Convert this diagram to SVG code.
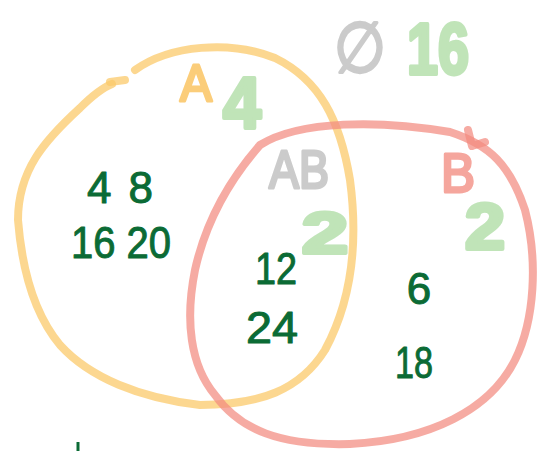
<svg xmlns="http://www.w3.org/2000/svg" width="545" height="451" viewBox="0 0 545 451">
<style>
.ring{fill:none;stroke-width:8;stroke-linecap:round;stroke-linejoin:round}
.a{stroke:#fbc96b;stroke-opacity:0.75}
.b{stroke:#f28b80;stroke-opacity:0.72}
.t{font-family:"Liberation Sans","DejaVu Sans",sans-serif;text-anchor:middle;stroke-linejoin:round}
.num{fill:#0b6b35;stroke:#0b6b35;stroke-width:1;font-size:44px}
.lg{fill:#bde3b5;stroke:#bde3b5;stroke-width:4;font-weight:bold;opacity:0.95}
.gr{fill:#c9c9c9;stroke:#c9c9c9;stroke-width:3;opacity:0.95}
</style>
<rect width="545" height="451" fill="#ffffff"/>
<g id="circleA">
<path class="ring a" d="M110 82 L125 80"/>
<path class="ring a" d="M135 70 C170 45 230 40 275 58 C320 80 340 120 350 180 C358 240 352 300 325 350 C300 390 260 405 200 405 C140 398 90 378 60 345 C35 315 22 270 18 220 C18 170 45 140 80 108 C92 96 102 88 112 84"/>
<text class="t" x="196" y="101" font-size="52" textLength="32" lengthAdjust="spacingAndGlyphs" fill="#fbcd7a" stroke="#fbcd7a" stroke-width="3">A</text>
</g>
<g id="circleB">
<path class="ring b" d="M260 145 C300 120 380 120 450 132 C490 145 510 165 525 210 C538 260 535 320 515 360 C490 410 430 440 350 444 C280 446 240 430 215 395 C190 365 185 320 195 270 C205 225 225 185 260 145"/>
<path class="ring b" d="M468 130 L472 146 M472 146 L485 142"/>
<text class="t" x="458" y="192" font-size="56" textLength="34" lengthAdjust="spacingAndGlyphs" fill="#f5a69d" stroke="#f5a69d" stroke-width="3">B</text>
</g>
<g id="labels">
<text class="t lg" x="242" y="128" font-size="72" textLength="38" lengthAdjust="spacingAndGlyphs">4</text>
<text class="t gr" x="360" y="72" font-size="70" font-family="DejaVu Sans" textLength="52" lengthAdjust="spacingAndGlyphs">∅</text>
<text class="t lg" x="438" y="74" font-size="72" textLength="62" lengthAdjust="spacingAndGlyphs">16</text>
<text class="t gr" x="299" y="188" font-size="54" textLength="60" lengthAdjust="spacingAndGlyphs">AB</text>
<text class="t lg" x="325" y="253" font-size="58" textLength="46" lengthAdjust="spacingAndGlyphs">2</text>
<text class="t lg" x="485" y="249" font-size="64" textLength="40" lengthAdjust="spacingAndGlyphs">2</text>
</g>
<g id="elements">
<text class="t num" x="120" y="203" textLength="66" lengthAdjust="spacing">4 8</text>
<text class="t num" x="121" y="258" textLength="100" lengthAdjust="spacingAndGlyphs">16 20</text>
<text class="t num" x="276" y="284" textLength="42" lengthAdjust="spacingAndGlyphs">12</text>
<text class="t num" x="272" y="343" textLength="52" lengthAdjust="spacingAndGlyphs">24</text>
<text class="t num" x="419" y="304">6</text>
<text class="t num" x="414" y="378" textLength="38" lengthAdjust="spacingAndGlyphs">18</text>
<path d="M78 442 L78 451" stroke="#0b6b35" stroke-width="3"/>
</g>
</svg>
